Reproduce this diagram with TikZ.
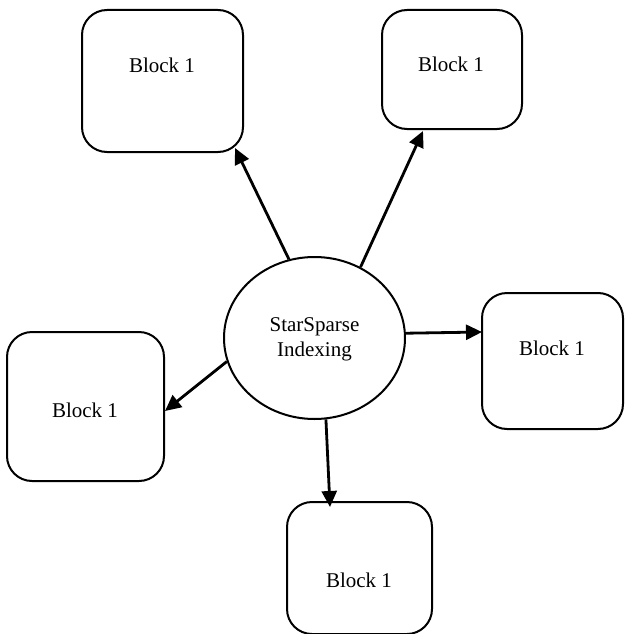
\documentclass[tikz,border=0pt]{standalone}
\usepackage{fontspec}
\setmainfont{Liberation Serif}
\usetikzlibrary{arrows.meta,calc,shapes.geometric}

\tikzset{
  blockbox/.style={draw, line width=2pt, rounded corners=25pt, inner sep=0pt},
  hubnode/.style={draw, ellipse, line width=2pt, inner sep=0pt,
    minimum width=181pt, minimum height=162pt},
  lbl/.style={font=\fontsize{21}{25}\selectfont, align=center, inner sep=0pt},
  link/.style={line width=2.8pt, -{Triangle[length=16pt,width=15pt]}}
}

\begin{document}
\begin{tikzpicture}[x=1pt, y=-1pt]
  \useasboundingbox (0,0) rectangle (624,634);

  % central hub
  \node[hubnode] (hub) at (314.5,338) {};
  \node[lbl] (hubtext) at (314.5,339) {StarSparse\\Indexing};

  % surrounding blocks
  \node[blockbox, minimum width=161pt, minimum height=142pt] (tl) at (162.5,81) {};
  \node[blockbox, minimum width=140pt, minimum height=119pt] (tr) at (452,69.5) {};
  \node[blockbox, minimum width=141pt, minimum height=136pt] (rt) at (552.5,361) {};
  \node[blockbox, minimum width=157pt, minimum height=149pt] (lt) at (85.5,406.5) {};
  \node[blockbox, minimum width=145pt, minimum height=132pt] (bt) at (359.5,568) {};

  % block labels
  \node[lbl] (tltext) at (162,65) {Block 1};
  \node[lbl] (trtext) at (451,64) {Block 1};
  \node[lbl] (rttext) at (552,348) {Block 1};
  \node[lbl] (lttext) at (85,410) {Block 1};
  \node[lbl] (bttext) at (359,580) {Block 1};

  % connectors from the hub
  \draw[link] (hub.108.75) -- ($(tl.center)+(72.5,67)$);
  \draw[link] (hub.57.9) -- ($(tr.center)+(-29,61.5)$);
  \draw[link] (hub.3.8) -- ($(rt.center)+(-70.5,-29)$);
  \draw[link] (hub.195.4) -- ($(lt.center)+(79.5,4.5)$);
  \draw[link] (hub.278.5) -- ($(bt.center)+(-29.5,-61)$);
\end{tikzpicture}
\end{document}
